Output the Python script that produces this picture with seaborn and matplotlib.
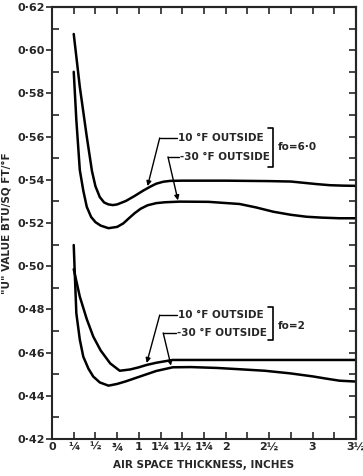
import numpy as np
import pandas as pd
import matplotlib
matplotlib.use("Agg")
import matplotlib.pyplot as plt
from matplotlib.ticker import MultipleLocator
import seaborn as sns

# curves (x = air space thickness, inches)
fo6_10_x = [0.25, 0.32, 0.40, 0.46, 0.50, 0.55, 0.60, 0.65, 0.70, 0.75, 0.85, 0.95, 1.05, 1.13,
            1.20, 1.28, 1.36, 1.50, 2.00, 2.50, 2.75, 2.90, 3.05, 3.20, 3.35, 3.50]
fo6_10_y = [0.6075, 0.583, 0.560, 0.544, 0.537, 0.532, 0.5295, 0.5286, 0.5283, 0.5286, 0.5302,
            0.5325, 0.5350, 0.5368, 0.5382, 0.5391, 0.5395, 0.5396, 0.5396, 0.5394, 0.5392,
            0.5386, 0.5380, 0.5375, 0.5373, 0.5372]

fo6_m30_x = [0.25, 0.28, 0.32, 0.36, 0.40, 0.45, 0.50, 0.56, 0.65, 0.75, 0.82, 0.88, 0.95, 1.02,
             1.10, 1.20, 1.30, 1.47, 1.80, 2.16, 2.35, 2.55, 2.75, 2.93, 3.10, 3.31, 3.50]
fo6_m30_y = [0.590, 0.5677, 0.5445, 0.535, 0.5275, 0.5228, 0.5204, 0.5188, 0.5176, 0.5182,
             0.5198, 0.5220, 0.5245, 0.5266, 0.5282, 0.5292, 0.5296, 0.5299, 0.5298, 0.5288,
             0.5272, 0.5252, 0.5238, 0.5229, 0.5225, 0.5222, 0.5222]

fo2_10_x = [0.25, 0.32, 0.40, 0.475, 0.56, 0.67, 0.78, 0.90, 1.00, 1.09, 1.20, 1.30, 1.39,
            2.00, 2.50, 3.00, 3.50]
fo2_10_y = [0.4986, 0.4859, 0.4755, 0.4674, 0.461, 0.455, 0.4516, 0.4522, 0.4532, 0.4543,
            0.4553, 0.4560, 0.4566, 0.4566, 0.4566, 0.4566, 0.4566]

fo2_m30_x = [0.25, 0.26, 0.28, 0.32, 0.36, 0.42, 0.475, 0.55, 0.65, 0.75, 0.85, 1.01, 1.20,
             1.39, 1.60, 1.90, 2.16, 2.45, 2.74, 3.00, 3.15, 3.31, 3.50]
fo2_m30_y = [0.5098, 0.499, 0.4782, 0.466, 0.4581, 0.4525, 0.4489, 0.4462, 0.4447, 0.4455,
             0.4467, 0.4489, 0.4515, 0.4532, 0.4533, 0.4529, 0.4523, 0.4516, 0.4504, 0.4490,
             0.4480, 0.4470, 0.4466]

xtick_vals = [0, 0.25, 0.5, 0.75, 1, 1.25, 1.5, 1.75, 2, 2.25, 2.5, 2.75, 3, 3.25, 3.5]
xtick_text = ["0", "¼", "½", "¾", "1", "1¼", "1½", "1¾", "2", "", "2½", "", "3", "", "3½"]
ytick_vals = [0.42, 0.44, 0.46, 0.48, 0.50, 0.52, 0.54, 0.56, 0.58, 0.60, 0.62]
ytick_text = ["0·42", "0·44", "0·46", "0·48", "0·50", "0·52", "0·54", "0·56", "0·58", "0·60", "0·62"]

sns.set_style("ticks")
plt.rcParams['font.family'] = ['DejaVu Sans']

fig = plt.figure(figsize=(3.63, 4.76), dpi=100)
ax = fig.add_axes([0.1433, 0.0777, 0.8375, 0.9076])

for cx, cy in [(fo6_10_x, fo6_10_y), (fo6_m30_x, fo6_m30_y),
               (fo2_10_x, fo2_10_y), (fo2_m30_x, fo2_m30_y)]:
    sns.lineplot(x=cx, y=cy, ax=ax, color="black", lw=1.8, sort=False)

ax.set_xlim(0, 3.5)
ax.set_ylim(0.42, 0.62)
ax.set_xticks(xtick_vals)
ax.set_xticklabels(xtick_text, fontsize=8, fontweight="bold")
ax.set_yticks(ytick_vals)
ax.set_yticklabels(ytick_text, fontsize=8, fontweight="bold")
ax.yaxis.set_minor_locator(MultipleLocator(0.01))
ax.tick_params(axis="y", which="major", direction="out", length=4, width=1.2, pad=1)
ax.tick_params(axis="y", which="minor", direction="in", length=5, width=1.2)
ax.tick_params(axis="x", which="major", direction="in", length=5, width=1.2, pad=2)
for s in ax.spines.values():
    s.set_linewidth(1.5)
    s.set_visible(True)

# inward ticks on the right and top sides
ax_r = ax.secondary_yaxis("right")
ax_r.yaxis.set_major_locator(MultipleLocator(0.01))
ax_r.tick_params(direction="in", length=5, width=1.2, labelright=False)
ax_r.spines["right"].set_linewidth(1.5)
ax_t = ax.secondary_xaxis("top")
ax_t.xaxis.set_major_locator(MultipleLocator(0.25))
ax_t.tick_params(direction="in", length=5, width=1.2, labeltop=False)
ax_t.spines["top"].set_linewidth(1.5)

ax.set_xlabel("AIR SPACE THICKNESS, INCHES", fontsize=7.5, fontweight="bold", labelpad=6)
ax.set_ylabel('"U" VALUE BTU/SQ FT/°F', fontsize=7.5, fontweight="bold", labelpad=4)

# callouts: (text, text x, text y, leader corner x, arrow tip x, arrow tip y)
callouts = [
    ("10 °F OUTSIDE", 1.45, 0.5594, 1.24, 1.10, 0.5371),
    ("-30 °F OUTSIDE", 1.47, 0.5506, 1.335, 1.45, 0.5305),
    ("10 °F OUTSIDE", 1.45, 0.4774, 1.24, 1.09, 0.4552),
    ("-30 °F OUTSIDE", 1.44, 0.4691, 1.28, 1.37, 0.4540),
]
for txt, tx, ty, cx0, ax0, ay0 in callouts:
    ax.text(tx, ty, txt, fontsize=7.5, fontweight="bold", ha="left", va="center")
    ax.plot([cx0, tx - 0.01], [ty, ty], color="black", lw=1)
    ax.annotate("", xy=(ax0, ay0), xytext=(cx0, ty),
                arrowprops=dict(arrowstyle="-|>", color="black", lw=1, mutation_scale=7,
                                shrinkA=0, shrinkB=0))

# brackets with film coefficient labels
for y0, y1, lab, ly in [(0.5640, 0.5459, "fo=6·0", 0.5550), (0.4811, 0.4658, "fo=2", 0.4725)]:
    ax.plot([2.49, 2.54, 2.54, 2.49], [y0, y0, y1, y1], color="black", lw=1.2)
    ax.text(2.60, ly, lab, fontsize=7.5, fontweight="bold", ha="left", va="center")

fig.savefig("out.png", dpi=100)
